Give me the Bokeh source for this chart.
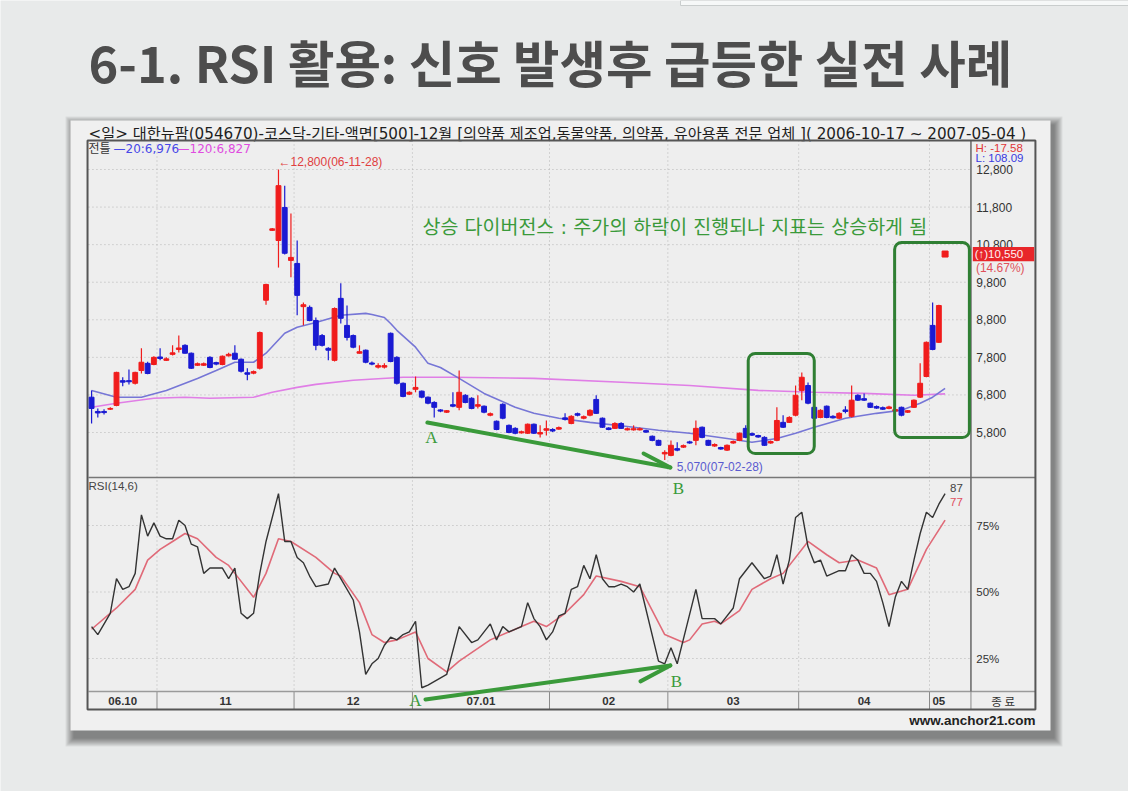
import numpy as np
from bokeh.plotting import figure
from bokeh.models import Range1d, ColumnDataSource, BoxAnnotation
from bokeh.core.properties import value
from bokeh.embed import file_html
from bokeh.resources import INLINE

# ---------------- data ----------------
TITLE = "6-1. RSI 활용: 신호 발생후 급등한 실전 사례"
HEADER = "<일> 대한뉴팜(054670)-코스닥-기타-액면[500]-12월 [의약품 제조업,동물약품, 의약품, 유아용품 전문 업체 ]( 2006-10-17 ~ 2007-05-04 )"
NOTE = "상승 다이버전스 : 주가의 하락이 진행되나 지표는 상승하게 됨"

opens = [6740,6360,6360,6420,6520,7180,7180,7110,7450,7640,
         7610,7810,7720,7880,8010,8120,7910,7590,7590,7800,
         7660,7610,7840,7910,7750,7390,7380,7510,9320,11180,
         10910,11790,10380,10300,9150,9130,8780,8380,8040,7720,
         9370,8650,8380,7910,7990,7650,7540,7540,8440,7800,
         7110,6820,6950,6900,6740,6600,6400,6340,6540,6470,
         6790,6710,6500,6500,6260,6100,6550,5990,5910,5790,
         5780,6020,5760,5860,5880,5890,6190,6040,6300,6180,
         6260,6680,6180,5920,5910,6040,5870,5870,5870,5850,
         5700,5590,5230,5190,5370,5410,5550,5590,5940,5590,
         5440,5400,5330,5520,5590,5910,5770,5720,5670,5520,
         5590,6070,6070,6260,6920,7050,6470,6200,6500,6230,
         6180,6400,6230,6790,6700,6580,6490,6460,6440,6370,
         6470,6340,6470,6740,7290,8650,8200,10550]
highs = [6920,6440,6420,6470,7420,7270,7480,7420,8040,7680,
         7830,8040,7800,8120,8380,8150,7930,7660,7660,7830,
         7680,7850,7920,8120,7770,7510,7450,8490,9760,11240,
         12800,12370,11630,10910,9260,9180,8860,8420,8070,9130,
         9770,9180,8410,8120,8010,7690,7640,7640,8460,7830,
         7130,6900,7290,6920,6760,6630,6420,6400,6870,7450,
         6820,6740,6790,6520,6330,6120,6580,6010,5940,5850,
         6040,6040,5990,6120,5910,5960,6310,6260,6330,6250,
         6420,6790,6200,5940,6070,6070,5930,5990,5930,5870,
         5720,5610,5330,5590,5540,5480,5580,6120,5960,5610,
         5510,5420,5480,5590,5800,5990,5800,5740,5700,5590,
         6470,6260,6230,7050,7400,7130,6500,6420,6520,6260,
         6340,6500,7050,6820,6840,6600,6520,6490,6510,6440,
         6490,6400,6680,7640,8220,9260,9200,10550]
lows = [6040,6200,6280,6400,6500,7030,7080,7080,7370,7350,
        7590,7720,7700,7850,7930,7900,7490,7570,7570,7510,
        7590,7590,7820,7730,7400,7190,7350,7480,9200,11160,
        10190,10540,9930,8920,8650,8760,7990,8090,7720,7690,
        8700,8250,8040,7900,7640,7590,7500,7500,7670,7080,
        6740,6800,6870,6710,6550,6200,6340,6320,6470,6390,
        6580,6420,6440,6310,6230,5860,6150,5780,5750,5770,
        5760,5760,5670,5720,5810,5870,6120,6020,6230,6150,
        6230,6290,5920,5860,5890,5890,5850,5850,5850,5790,
        5570,5440,5070,5170,5300,5390,5500,5460,5650,5440,
        5420,5340,5310,5500,5570,5650,5710,5660,5440,5500,
        5570,5920,6050,6230,6660,6550,6150,6180,6180,6170,
        6160,6310,6200,6640,6640,6450,6430,6400,6420,6350,
        6230,6320,6450,6720,7270,7990,8180,10550]
closes = [6440,6320,6330,6440,7400,7140,7150,7400,7670,7370,
          7800,7770,7760,7920,8050,7910,7510,7630,7630,7530,
          7620,7830,7880,7750,7430,7350,7420,8460,9740,11220,
          12370,10570,10460,9450,9200,8780,8120,8120,7990,9100,
          8840,8330,8070,7950,7670,7620,7580,7580,7690,7110,
          6760,6870,7000,6740,6580,6470,6370,6380,6500,6870,
          6600,6440,6540,6340,6300,5880,6180,5800,5780,5820,
          6020,5780,5800,5900,5840,5930,6150,6230,6260,6220,
          6390,6310,5940,5880,6040,5910,5900,5900,5900,5810,
          5590,5460,5270,5460,5330,5450,5520,5910,5670,5460,
          5480,5360,5460,5560,5780,5670,5730,5680,5460,5560,
          6120,5940,6200,6790,7270,6580,6180,6390,6200,6190,
          6310,6360,6660,6660,6660,6470,6450,6420,6480,6410,
          6260,6380,6660,7110,8200,8010,9180,10550]

ma20_idx = [0,4,8,12,17,20,23,26,28,31,33,36,40,44,45,47,48,49,52,54,56,59,63,68,71,75,80,86,91,96,102,106,110,113,116,121,126,130,133,135,137]
ma20_val = [6920,6740,6740,6920,7240,7450,7670,7670,7910,8440,8600,8730,8920,8970,8940,8860,8700,8520,8070,7640,7530,7240,6840,6470,6310,6180,6070,5960,5860,5780,5640,5540,5640,5780,5940,6180,6310,6390,6580,6740,6976]
ma120_idx = [0,4,10,15,19,26,29,33,36,42,50,58,71,86,96,107,116,124,132,137]
ma120_val = [6470,6580,6710,6740,6710,6740,6870,7000,7080,7190,7270,7270,7240,7130,7050,6920,6870,6840,6790,6827]

rsi_idx = [0,1,3,4,5,6,7,8,9,10,11,12,13,14,15,16,17,18,19,20,21,22,23,24,25,26,27,28,30,31,
           32,33,34,35,36,38,39,40,42,43,44,45,46,47,48,49,50,51,52,53,54,57,59,61,62,64,65,66,67,69,
           70,71,72,73,74,75,76,77,78,79,80,81,82,83,84,85,86,87,88,91,92,93,94,97,98,100,101,103,104,106,
           108,109,110,111,112,113,114,115,116,117,118,120,121,122,123,124,125,126,127,128,129,130,131,132,133,134,135,136,137]
rsi_val = [37,34,42,55,51,52,57,79,71,76,71,70,70,77,75,68,67,57,59,59,59,55,59,42,40,42,57,69,87,69,
           69,63,61,56,52,53,59,55,47,35,19,23,25,30,33,32,34,35,39,14,15,19,37,31,32,38,32,37,35,37,
           46,40,37,32,35,41,42,51,52,60,55,64,55,52,52,53,52,50,53,24,23,29,23,51,40,40,38,44,55,61,
           55,56,64,53,62,78,80,67,61,62,56,58,58,64,62,57,57,54,46,37,48,54,51,62,72,80,78,83,87]
sig_idx = [0,4,7,9,11,13,15,17,20,22,23,26,28,30,32,36,39,40,43,45,47,49,52,53,54,57,59,64,69,71,
           73,76,79,81,85,88,90,92,95,96,98,100,101,104,106,109,111,115,118,120,123,126,128,131,134,137]
sig_val = [36,44,51,62,66,69,72,70,63,60,57,48,57,70,69,63,57,56,46,34,31,32,35,30,25,20,24,32,37,39,
           37,42,49,56,54,52,43,34,31,32,38,39,38,43,51,55,57,69,64,61,62,59,49,51,66,77]

month_labels = ["06.10", "11", "12", "07.01", "02", "03", "04", "05"]
month_start = [0, 11, 33, 52, 74, 93, 114, 135]
price_ticks = [12800, 11800, 10800, 9800, 8800, 7800, 6800, 5800]
rsi_ticks = [75, 50, 25]

# annotation geometry (index / price / rsi units)
box1 = dict(left=105.4, right=116.0, top=7903, bottom=5241)
box2 = dict(left=128.9, right=140.9, top=10857, bottom=5667)
parrow_x, parrow_y = [53.9, 92.9], [6066, 4868]
pbarb_x, pbarb_y = [88.6, 92.9], [5241, 4868]
rarrow_x, rarrow_y = [53.6, 92.9], [9.6, 22.4]
rbarb_x, rbarb_y = [88.1, 92.9], [16.4, 22.4]

# ---------------- style ----------------
SLIDE = "#e8eaea"
BOX = "#f0f0f0"
PLOT_BG = "#eeeeee"
RED = "#f01c1c"
BLUE = "#1a1ad2"
GREEN = "#3a9a3a"
GREEN_BOX = "#2f7f33"
KR = value("Noto Sans CJK KR")
KRW = value("DejaVu Sans, Noto Sans CJK KR")
LS = value("Liberation Sans")
LSer = value("Liberation Serif")

W, H = 1128, 791
p = figure(width=W, height=H, x_range=Range1d(-14.62, 166.44), y_range=Range1d(-3755.4, 17298.1),
           x_axis_location=None, y_axis_location=None, toolbar_location=None,
           output_backend="svg", min_border=0)
p.xgrid.visible = False
p.ygrid.visible = False
p.outline_line_color = None
p.background_fill_color = SLIDE
p.border_fill_color = SLIDE
p.extra_x_ranges = {"px": Range1d(0, W)}
p.extra_y_ranges = {"py": Range1d(H, 0), "rsi": Range1d(-25.0, 272.37)}

PX = dict(x_range_name="px", y_range_name="py")

# slide decorations: top-right strip, shadow + chart box
p.quad(left=[680], right=[W], top=[0], bottom=[5], fill_color="#f6f8f8", line_color="#c9cdcd",
       line_width=1, **PX)
for k in range(9):
    p.quad(left=[70 + 3 - k], right=[1050 + 4 + k], top=[120 + 4 - k], bottom=[730 + 8 + k],
           fill_color="black", fill_alpha=0.06, line_color=None, **PX)
p.quad(left=[70], right=[1050], top=[120], bottom=[730], fill_color=BOX, line_color=None, **PX)

XL, XSEP, XR = -0.5, 141.15, 151.5
PY_TOP, PY_SPLIT, PY_BAND, PY_BOT = 140, 477, 691, 709
p.quad(left=[XL], right=[XR], top=[PY_TOP], bottom=[PY_BOT], fill_color=PLOT_BG, line_color=None,
       y_range_name="py")

# title & header
p.text(x=[88], y=[60], text=[TITLE], text_font=KR, text_font_size="50.5px", text_font_style="bold",
       text_color="#4d4d4d", text_baseline="middle", **PX)
p.text(x=[88], y=[133], text=[HEADER], text_font=KRW, text_font_size="15.2px",
       text_color="#1e1e1e", text_baseline="middle", **PX)

# grid lines
bounds = [s - 0.5 for s in month_start[1:]]
p.segment(x0=[XL] * len(price_ticks), x1=[XSEP] * len(price_ticks), y0=price_ticks, y1=price_ticks,
          line_color="#b5b5b5", line_dash="1 3", line_width=1)
p.segment(x0=[XL] * 3, x1=[XSEP] * 3, y0=rsi_ticks, y1=rsi_ticks,
          line_color="#b5b5b5", line_dash="1 3", line_width=1, y_range_name="rsi")
p.segment(x0=bounds, x1=bounds, y0=[PY_TOP] * len(bounds), y1=[PY_BAND] * len(bounds),
          line_color="#b5b5b5", line_dash="1 3", line_width=1, y_range_name="py")
p.segment(x0=bounds + [XSEP], x1=bounds + [XSEP], y0=[PY_BAND] * (len(bounds) + 1),
          y1=[PY_BOT] * (len(bounds) + 1), line_color="#8a8a8a", line_width=1, y_range_name="py")

# panel borders
p.segment(x0=[XL, XL], x1=[XR, XR], y0=[PY_SPLIT, PY_BAND], y1=[PY_SPLIT, PY_BAND],
          line_color=["#777777", "#9a9a9a"], line_width=1.5, y_range_name="py")
p.segment(x0=[XSEP], x1=[XSEP], y0=[PY_TOP], y1=[PY_BAND], line_color="#666666", line_width=1.5,
          y_range_name="py")
p.quad(left=[XL - 0.15], right=[XR], top=[PY_TOP], bottom=[PY_BOT], fill_color=None,
       line_color="#555555", line_width=2, y_range_name="py")

# moving averages
p.line(ma120_idx, ma120_val, line_color="#e07ee6", line_width=1.6)
p.line(ma20_idx, ma20_val, line_color="#7676d6", line_width=1.6)

# candles
idx = list(range(len(closes)))
colors = [RED if c >= o else BLUE for o, c in zip(opens, closes)]
src = ColumnDataSource(dict(x=idx, o=opens, h=highs, l=lows, c=closes,
                            top=[max(o, c) for o, c in zip(opens, closes)],
                            bot=[min(o, c) for o, c in zip(opens, closes)], color=colors))
p.segment(x0="x", x1="x", y0="h", y1="l", line_color="color", line_width=1.2, source=src)
p.vbar(x="x", width=0.78, top="top", bottom="bot", fill_color="color", line_color="color", source=src)
flat = [i for i in idx if highs[i] == lows[i]]
p.scatter(x=flat, y=[closes[i] for i in flat], marker="square", size=6, fill_color=RED, line_color=RED)

# RSI
p.line(sig_idx, sig_val, line_color="#e06a78", line_width=1.6, y_range_name="rsi")
p.line(rsi_idx, rsi_val, line_color="#333333", line_width=1.4, y_range_name="rsi")

# price axis labels (right column)
p.text(x=[XSEP + 0.85] * len(price_ticks), y=price_ticks, text=[f"{t:,}" for t in price_ticks],
       text_font=LS, text_font_size="12px", text_color="#333333", text_baseline="middle")
last = len(closes) - 1
p.quad(left=[XSEP + 0.3], right=[XR - 0.2], top=[closes[last] + 190], bottom=[closes[last] - 190],
       fill_color="#e8262a", line_color=None)
p.text(x=[XSEP + 0.6], y=[closes[last]], text=[f"(↑){closes[last]:,}"], text_font=LS,
       text_font_size="11.5px", text_color="#fff2f2", text_baseline="middle")
p.text(x=[XSEP + 0.8], y=[closes[last]], y_offset=[14], text=["(14.67%)"], text_font=LS,
       text_font_size="12px", text_color="#e0505a", text_baseline="middle")
p.text(x=[975, 975], y=[147, 157], text=["H: -17.58", "L: 108.09"], text_font=LS, text_font_size="11.5px",
       text_color=["#e03838", "#3a3ae0"], text_baseline="middle", **PX)

# RSI axis labels
p.text(x=[XSEP + 0.85] * 3, y=rsi_ticks, text=[f"{t}%" for t in rsi_ticks], text_font=LS,
       text_font_size="11.5px", text_color="#333333", text_baseline="middle", y_range_name="rsi")
p.text(x=[last, last], y=[rsi_val[-1], rsi_val[-1]], x_offset=[5, 5], y_offset=[-6, 8],
       text=[str(rsi_val[-1]), str(sig_val[-1])], text_font=LS, text_font_size="11.5px",
       text_color=["#444444", "#e05060"], text_baseline="middle", y_range_name="rsi")
p.text(x=[88], y=[485], text=["RSI(14,6)"], text_font=LS, text_font_size="11.5px",
       text_color="#444444", text_baseline="middle", **PX)

# legend of moving averages
p.text(x=[88, 113, 177], y=[148, 148, 148], text=["전틀", "—20:6,976", "—120:6,827"],
       text_font=KRW, text_font_size="12px", text_color=["#333333", "#4848e8", "#e04ce0"],
       text_baseline="middle", **PX)

# month labels in band
ends = month_start[1:] + [len(closes)]
mid = [(s - 0.5 + e - 0.5) / 2 for s, e in zip(month_start, ends)]
p.text(x=mid, y=[700] * len(mid), text=month_labels, text_font=LS, text_font_size="11.5px",
       text_font_style="bold", text_color="#333333", text_align="center", text_baseline="middle",
       y_range_name="py")
p.text(x=[(XSEP + XR) / 2], y=[700], text=["종 료"], text_font=KR, text_font_size="11.5px",
       text_color="#333333", text_align="center", text_baseline="middle", y_range_name="py")
p.text(x=[1035], y=[720], text=["www.anchor21.com"], text_font=LS, text_font_size="13.5px",
       text_font_style="bold", text_color="#222222", text_align="right", text_baseline="middle", **PX)

# high / low annotations
hi = int(np.argmax(highs))
lo = int(np.argmin(lows))
p.text(x=[hi], y=[highs[hi]], y_offset=[-7], text=[f"←{highs[hi]:,}(06-11-28)"], text_font=LS,
       text_font_size="12px", text_color="#e04040", text_baseline="middle")
p.text(x=[lo], y=[lows[lo]], x_offset=[12], y_offset=[7], text=[f"{lows[lo]:,}(07-02-28)"],
       text_font=LS, text_font_size="12px", text_color="#5a5ad0", text_baseline="middle")

# green annotations
p.text(x=[422], y=[227], text=[NOTE], text_font=KRW, text_font_size="19.5px", text_color="#3a9a3a",
       text_baseline="middle", **PX)
for b in (box1, box2):
    p.add_layout(BoxAnnotation(left=b["left"], right=b["right"], top=b["top"], bottom=b["bottom"],
                               fill_alpha=0, line_color=GREEN_BOX, line_alpha=1.0, line_width=3,
                               border_radius=7))
p.line(parrow_x, parrow_y, line_color=GREEN, line_width=4, line_cap="round")
p.line(pbarb_x, pbarb_y, line_color=GREEN, line_width=4, line_cap="round")
p.line(rarrow_x, rarrow_y, line_color=GREEN, line_width=4, line_cap="round", y_range_name="rsi")
p.line(rbarb_x, rbarb_y, line_color=GREEN, line_width=4, line_cap="round", y_range_name="rsi")
p.text(x=[parrow_x[0]], y=[parrow_y[0]], x_offset=[4], y_offset=[15], text=["A"], text_font=LSer,
       text_font_size="17px", text_color=GREEN, text_align="center", text_baseline="middle")
p.text(x=[parrow_x[1]], y=[parrow_y[1]], x_offset=[8], y_offset=[21], text=["B"], text_font=LSer,
       text_font_size="17px", text_color=GREEN, text_align="center", text_baseline="middle")
p.text(x=[rarrow_x[0]], y=[rarrow_y[0]], x_offset=[-10], y_offset=[1], text=["A"], text_font=LSer,
       text_font_size="17px", text_color=GREEN, text_align="center", text_baseline="middle",
       y_range_name="rsi")
p.text(x=[rarrow_x[1]], y=[rarrow_y[1]], x_offset=[6], y_offset=[16], text=["B"], text_font=LSer,
       text_font_size="17px", text_color=GREEN, text_align="center", text_baseline="middle",
       y_range_name="rsi")

open("out.html", "w").write(file_html(p, INLINE))
